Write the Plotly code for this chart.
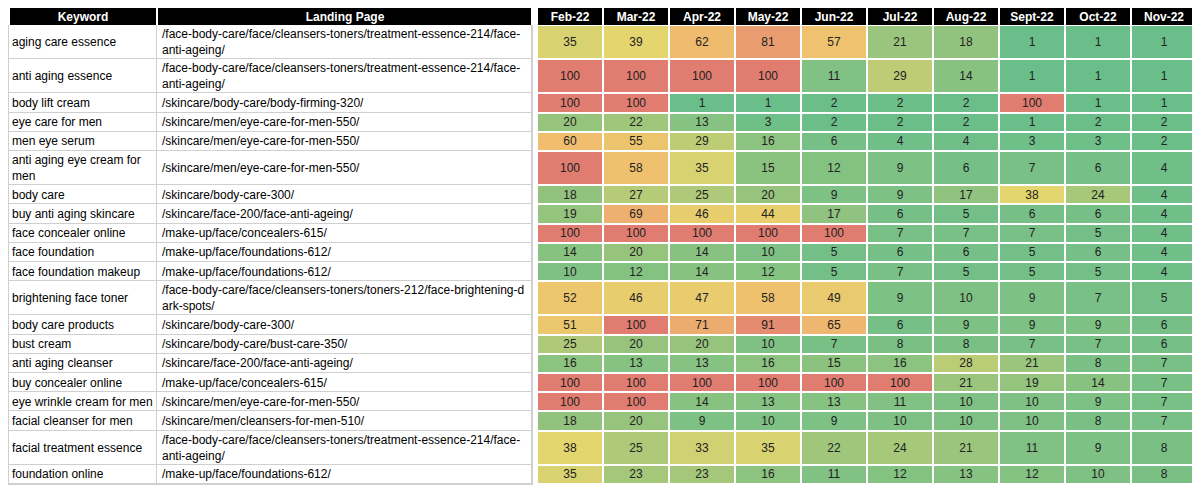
import plotly.graph_objects as go

keywords = ["aging care essence", "anti aging essence", "body lift cream", "eye care for men",
            "men eye serum", "anti aging eye cream for<br>men", "body care", "buy anti aging skincare",
            "face concealer online", "face foundation", "face foundation makeup",
            "brightening face toner", "body care products", "bust cream", "anti aging cleanser",
            "buy concealer online", "eye wrinkle cream for men", "facial cleanser for men",
            "facial treatment essence", "foundation online"]
pages = ["/face-body-care/face/cleansers-toners/treatment-essence-214/face-<br>anti-ageing/",
         "/face-body-care/face/cleansers-toners/treatment-essence-214/face-<br>anti-ageing/",
         "/skincare/body-care/body-firming-320/",
         "/skincare/men/eye-care-for-men-550/",
         "/skincare/men/eye-care-for-men-550/",
         "/skincare/men/eye-care-for-men-550/",
         "/skincare/body-care-300/",
         "/skincare/face-200/face-anti-ageing/",
         "/make-up/face/concealers-615/",
         "/make-up/face/foundations-612/",
         "/make-up/face/foundations-612/",
         "/face-body-care/face/cleansers-toners/toners-212/face-brightening-d<br>ark-spots/",
         "/skincare/body-care-300/",
         "/skincare/body-care/bust-care-350/",
         "/skincare/face-200/face-anti-ageing/",
         "/make-up/face/concealers-615/",
         "/skincare/men/eye-care-for-men-550/",
         "/skincare/men/cleansers-for-men-510/",
         "/face-body-care/face/cleansers-toners/treatment-essence-214/face-<br>anti-ageing/",
         "/make-up/face/foundations-612/"]
months = ["Feb-22", "Mar-22", "Apr-22", "May-22", "Jun-22", "Jul-22", "Aug-22", "Sept-22", "Oct-22", "Nov-22"]

feb = [35, 100, 100, 20, 60, 100, 18, 19, 100, 14, 10, 52, 51, 25, 16, 100, 100, 18, 38, 35]
mar = [39, 100, 100, 22, 55, 58, 27, 69, 100, 20, 12, 46, 100, 20, 13, 100, 100, 20, 25, 23]
apr = [62, 100, 1, 13, 29, 35, 25, 46, 100, 14, 14, 47, 71, 20, 13, 100, 14, 9, 33, 23]
may = [81, 100, 1, 3, 16, 15, 20, 44, 100, 10, 12, 58, 91, 10, 16, 100, 13, 10, 35, 16]
jun = [57, 11, 2, 2, 6, 12, 9, 17, 100, 5, 5, 49, 65, 7, 15, 100, 13, 9, 22, 11]
jul = [21, 29, 2, 2, 4, 9, 9, 6, 7, 6, 7, 9, 6, 8, 16, 100, 11, 10, 24, 12]
aug = [18, 14, 2, 2, 4, 6, 17, 5, 7, 6, 5, 10, 9, 8, 28, 21, 10, 10, 21, 13]
sep = [1, 1, 100, 1, 3, 7, 38, 6, 7, 5, 5, 9, 9, 7, 21, 19, 10, 10, 11, 12]
oct_ = [1, 1, 1, 2, 3, 6, 24, 6, 5, 6, 5, 7, 9, 7, 8, 14, 9, 8, 9, 10]
nov = [1, 1, 1, 2, 2, 4, 4, 4, 4, 4, 4, 5, 6, 6, 7, 7, 7, 7, 8, 8]
series = [feb, mar, apr, may, jun, jul, aug, sep, oct_, nov]

FONT = "Liberation Sans"
n = len(keywords)
PAGE_PAD = 8  # the page shows the plot shifted by this much

# layout in screen pixels: column edges and row edges (double-line rows are taller)
key_x = [9, 157, 532]
month_x = [537 + 66 * i for i in range(len(months) + 1)]
head_top, head_h, single_h, double_h = 8, 17, 19.2, 34.2
row_y = [head_top + head_h]
for k, p in zip(keywords, pages):
    lines = max(k.count("<br>"), p.count("<br>")) + 1
    row_y.append(row_y[-1] + (single_h if lines == 1 else double_h))

# green -> yellow -> orange -> red
colorscale = [[0.0, "rgb(106,190,138)"], [0.19, "rgb(150,196,125)"], [0.37, "rgb(228,214,110)"],
              [0.6, "rgb(240,190,110)"], [1.0, "rgb(224,124,112)"]]

z = [[s[r] for s in series] for r in range(n)]

fig = go.Figure()
# grey grid behind the text columns
fig.add_shape(type="rect", x0=key_x[0] - 1, x1=key_x[-1] + 1, y0=row_y[0], y1=row_y[-1] + 1,
              fillcolor="#cfcfcf", line_width=0, layer="below")
fig.add_trace(go.Heatmap(x=key_x, y=row_y, z=[[0, 0]] * n, colorscale=[[0, "white"], [1, "white"]],
                         showscale=False, xgap=1, ygap=1, hoverinfo="skip"))
fig.add_trace(go.Heatmap(x=month_x, y=row_y, z=z, zmin=1, zmax=100, colorscale=colorscale,
                         showscale=False, xgap=2, ygap=2, texttemplate="%{z}",
                         textfont=dict(family=FONT, size=12, color="#222")))
# header
head_x = key_x + month_x
head_z = [[0, 0, None] + [0] * len(months)]
head_t = [["Keyword", "Landing Page", ""] + months]
fig.add_trace(go.Heatmap(x=head_x, y=[head_top, head_top + head_h], z=head_z, text=head_t,
                         colorscale=[[0, "black"], [1, "black"]], showscale=False, xgap=2,
                         texttemplate="<b>%{text}</b>", hoverinfo="skip",
                         textfont=dict(family=FONT, size=12, color="white")))

for r in range(n):
    yc = (row_y[r] + row_y[r + 1]) / 2
    fig.add_annotation(x=key_x[0] + 1, y=yc, text=keywords[r], xanchor="left", showarrow=False,
                       align="left", font=dict(family=FONT, size=12, color="black"))
    fig.add_annotation(x=key_x[1] + 3, y=yc, text=pages[r], xanchor="left", showarrow=False,
                       align="left", font=dict(family=FONT, size=12, color="black"))

fig.update_xaxes(range=[PAGE_PAD, 1200 + PAGE_PAD], visible=False)
fig.update_yaxes(range=[487 + PAGE_PAD, PAGE_PAD], visible=False)
fig.update_layout(width=1200, height=487, margin=dict(l=0, r=0, t=0, b=0),
                  paper_bgcolor="white", plot_bgcolor="white")
fig.write_html("out.html")
